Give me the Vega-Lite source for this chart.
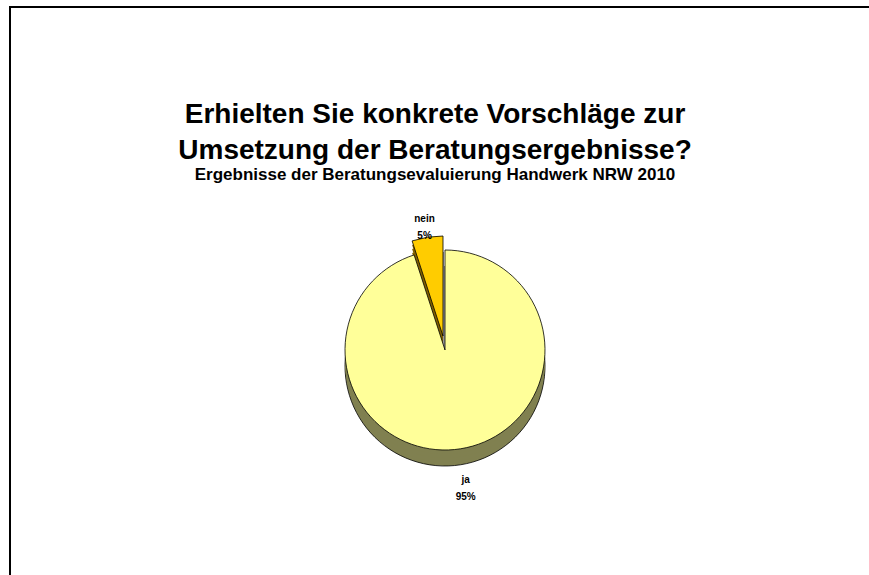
{
  "$schema": "https://vega.github.io/schema/vega-lite/v6.json",
  "autosize": "none",
  "padding": {"left": 10, "top": 7, "right": 0, "bottom": 0},
  "width": 861,
  "height": 572,
  "background": "white",
  "config": {
    "view": {"stroke": null},
    "font": "Liberation Sans"
  },
  "title": {
    "text": ["Erhielten Sie konkrete Vorschläge zur", "Umsetzung der Beratungsergebnisse?"],
    "subtitle": "Ergebnisse der Beratungsevaluierung Handwerk NRW 2010",
    "font": "Liberation Sans",
    "fontSize": 28,
    "fontWeight": "bold",
    "lineHeight": 36,
    "color": "black",
    "subtitleFont": "Liberation Sans",
    "subtitleFontSize": 17,
    "subtitleFontWeight": "bold",
    "subtitleColor": "black",
    "subtitlePadding": 2,
    "anchor": "middle",
    "offset": -177,
    "dx": -5.5
  },
  "data": {"values": [
    {"answer": "ja", "share": 95},
    {"answer": "nein", "share": 5}
  ]},
  "layer": [
    {"data": {"values": [{"frame": "border"}]},
     "mark": {"type": "rect", "fill": null, "stroke": "black", "strokeWidth": 2},
     "encoding": {}},
    {"encoding": {"theta": {"field": "share", "type": "quantitative", "stack": true}},
     "layer": [
      {"mark": {"type": "arc", "radius": 100, "xOffset": 2.5, "yOffset": 59, "fill": "#806000", "stroke": "black", "strokeWidth": 0.8},
       "encoding": {"opacity": {"condition": {"test": "datum.answer === 'nein'", "value": 1}, "value": 0}}},
      {"mark": {"type": "arc", "radius": 100, "xOffset": 2.5, "yOffset": 55, "fill": "#806000"},
       "encoding": {"opacity": {"condition": {"test": "datum.answer === 'nein'", "value": 1}, "value": 0}}},
      {"mark": {"type": "arc", "radius": 100, "xOffset": 2.5, "yOffset": 51, "fill": "#806000"},
       "encoding": {"opacity": {"condition": {"test": "datum.answer === 'nein'", "value": 1}, "value": 0}}},
      {"mark": {"type": "arc", "radius": 100, "xOffset": 2.5, "yOffset": 47, "fill": "#806000"},
       "encoding": {"opacity": {"condition": {"test": "datum.answer === 'nein'", "value": 1}, "value": 0}}},
      {"mark": {"type": "arc", "radius": 100, "xOffset": 2.5, "yOffset": 43, "fill": "#FFCC00", "stroke": "black", "strokeWidth": 0.8},
       "encoding": {"opacity": {"condition": {"test": "datum.answer === 'nein'", "value": 1}, "value": 0}}},
      {"mark": {"type": "arc", "radius": 100, "xOffset": 4.5, "yOffset": 73, "fill": "#808050", "stroke": "black", "strokeWidth": 0.8},
       "encoding": {"opacity": {"condition": {"test": "datum.answer === 'ja'", "value": 1}, "value": 0}}},
      {"mark": {"type": "arc", "radius": 100, "xOffset": 4.5, "yOffset": 69, "fill": "#808050"},
       "encoding": {"opacity": {"condition": {"test": "datum.answer === 'ja'", "value": 1}, "value": 0}}},
      {"mark": {"type": "arc", "radius": 100, "xOffset": 4.5, "yOffset": 65, "fill": "#808050"},
       "encoding": {"opacity": {"condition": {"test": "datum.answer === 'ja'", "value": 1}, "value": 0}}},
      {"mark": {"type": "arc", "radius": 100, "xOffset": 4.5, "yOffset": 61, "fill": "#808050"},
       "encoding": {"opacity": {"condition": {"test": "datum.answer === 'ja'", "value": 1}, "value": 0}}},
      {"mark": {"type": "arc", "radius": 100, "xOffset": 4.5, "yOffset": 57, "fill": "#FFFF99", "stroke": "black", "strokeWidth": 0.8},
       "encoding": {"opacity": {"condition": {"test": "datum.answer === 'ja'", "value": 1}, "value": 0}}},
      {"transform": [{"calculate": "datum.answer + '\\n' + datum.share + '%'", "as": "label"}],
       "mark": {"type": "text", "radius": 132, "xOffset": 4.5, "yOffset": 57, "font": "Liberation Sans", "fontSize": 10, "fontWeight": "bold", "lineBreak": "\n", "lineHeight": 17, "color": "black"},
       "encoding": {"text": {"field": "label"}, "opacity": {"condition": {"test": "datum.answer === 'ja'", "value": 1}, "value": 0}}},
      {"transform": [{"calculate": "datum.answer + '\\n' + datum.share + '%'", "as": "label"}],
       "mark": {"type": "text", "radius": 118, "xOffset": 2.5, "yOffset": 43, "font": "Liberation Sans", "fontSize": 10, "fontWeight": "bold", "lineBreak": "\n", "lineHeight": 17, "color": "black"},
       "encoding": {"text": {"field": "label"}, "opacity": {"condition": {"test": "datum.answer === 'nein'", "value": 1}, "value": 0}}}
     ]}
  ]
}
